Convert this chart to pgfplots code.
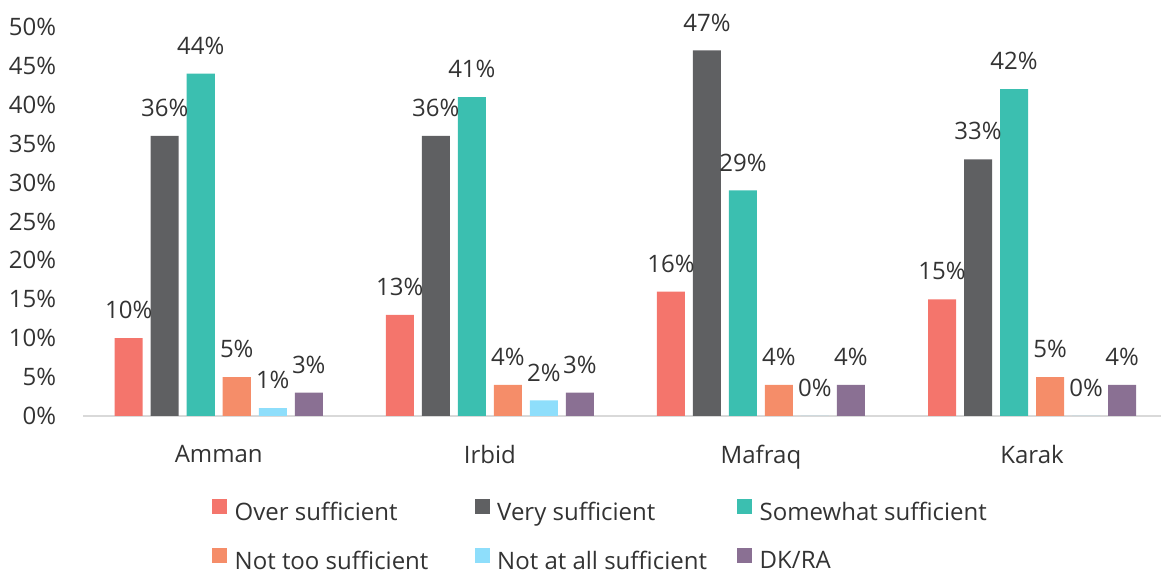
\documentclass[border=0pt]{standalone}
\usepackage{pgfplots}
\pgfplotsset{compat=1.18}
\usepackage{fontspec}
\setmainfont{Open Sans}
\definecolor{cOver}{HTML}{F4756C}
\definecolor{cVery}{HTML}{5F6062}
\definecolor{cSome}{HTML}{3BBFB0}
\definecolor{cNot}{HTML}{F58D69}
\definecolor{cNone}{HTML}{8EDEFB}
\definecolor{cDK}{HTML}{8A7093}
\definecolor{txt}{HTML}{333333}
\definecolor{axl}{HTML}{D9D9D9}
\newcommand{\lw}[1]{\makebox[119.9pt][l]{#1}}
\begin{document}
\begin{tikzpicture}[font=\fontsize{12}{14}\selectfont, text=txt]
\useasboundingbox (-41.6pt,-80pt) rectangle (538.9pt,208pt);
\begin{axis}[
  at={(0,0)}, anchor=south west,
  scale only axis, width=542.2pt, height=194.5pt,
  xmin=-0.5, xmax=3.5, ymin=0, ymax=50,
  ybar, bar width=0.1033,
  axis x line=bottom, axis y line=left,
  x axis line style={-, draw=axl, line width=1pt},
  y axis line style={draw=none},
  major tick length=0pt,
  xtick={0,1,2,3},
  xticklabels={Amman,Irbid,Mafraq,Karak},
  xticklabel style={yshift=-11pt},
  ytick={0,5,...,50},
  yticklabel={\pgfmathprintnumber{\tick}\%},
  yticklabel style={xshift=-10pt},
  /pgf/number format/assume math mode=true,
  nodes near coords={\pgfmathprintnumber{\pgfplotspointmeta}\%},
  every node near coord/.append style={yshift=6pt, text=txt},
  legend columns=3,
  legend style={draw=none, fill=none, inner sep=0pt, outer sep=0pt,
    at={(0.1188,-0.2133)}, anchor=north west,
    nodes={inner sep=0pt},
    /tikz/every odd column/.append style={column sep=3.85pt},
    row sep=12pt},
  legend image code/.code={\fill[#1] (0pt,-0.5pt) rectangle (7.5pt,7pt);},
]
\addplot[fill=cOver, draw=none, bar shift=-0.332] coordinates {(0,10) (1,13) (2,16) (3,15)};
\addlegendentry{\lw{Over sufficient}}
\addplot[fill=cVery, draw=none, bar shift=-0.1992] coordinates {(0,36) (1,36) (2,47) (3,33)};
\addlegendentry{\lw{Very sufficient}}
\addplot[fill=cSome, draw=none, bar shift=-0.0664] coordinates {(0,44) (1,41) (2,29) (3,42)};
\addlegendentry{\lw{Somewhat sufficient}}
\addplot[fill=cNot, draw=none, bar shift=0.0664] coordinates {(0,5) (1,4) (2,4) (3,5)};
\addlegendentry{\lw{Not too sufficient}}
\addplot[fill=cNone, draw=none, bar shift=0.1992] coordinates {(0,1) (1,2) (2,0) (3,0)};
\addlegendentry{\lw{Not at all sufficient}}
\addplot[fill=cDK, draw=none, bar shift=0.332] coordinates {(0,3) (1,3) (2,4) (3,4)};
\addlegendentry{\lw{DK/RA}}
\end{axis}
\end{tikzpicture}
\end{document}
